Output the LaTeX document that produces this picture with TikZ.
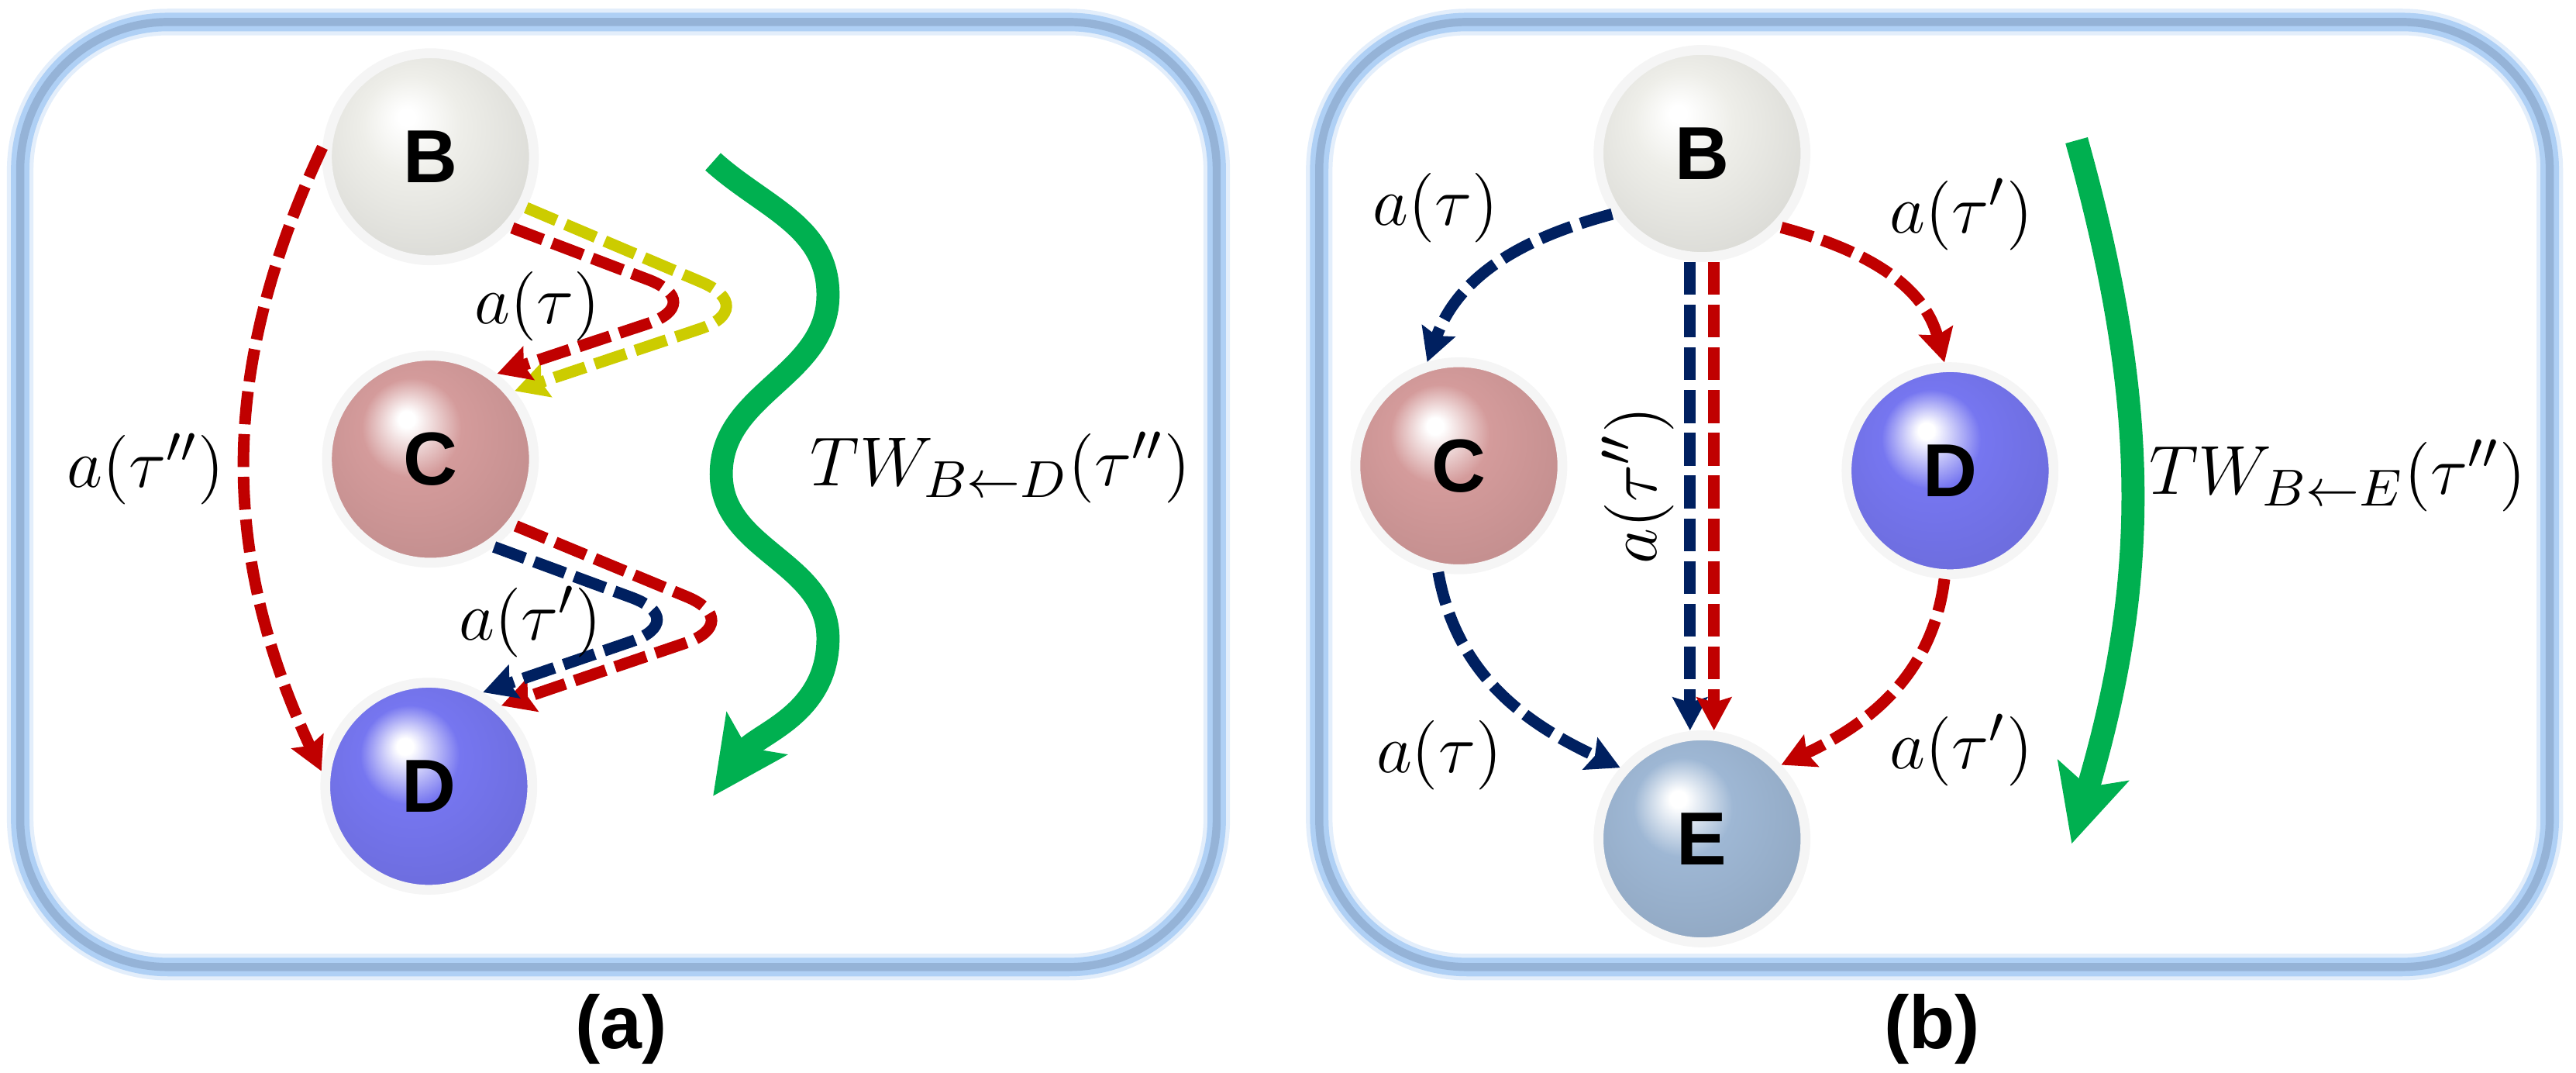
\documentclass[tikz,border=0pt]{standalone}
\usepackage{fontspec}
\setsansfont{Liberation Sans}
\usetikzlibrary{positioning,arrows.meta,calc}
\definecolor{framecore}{RGB}{149,179,215}
\definecolor{frameglow}{RGB}{175,208,245}
\definecolor{dashred}{RGB}{192,0,0}
\definecolor{dashnavy}{RGB}{0,32,96}
\definecolor{dashyellow}{RGB}{204,204,0}
\definecolor{twgreen}{RGB}{0,176,80}
\definecolor{ballBcol}{RGB}{238,238,233}
\definecolor{ballCcol}{RGB}{212,155,155}
\definecolor{ballDcol}{RGB}{118,118,240}
\definecolor{ballEcol}{RGB}{158,183,212}
% glossy sphere shadings
\newcommand{\declareball}[2]{%
  \pgfdeclareradialshading{#1}{\pgfpoint{-6bp}{10bp}}{color(0bp)=(white); color(2bp)=(white);
    color(12bp)=(#2); color(30bp)=(#2!92!black); color(37bp)=(#2!78!black); color(50bp)=(#2!78!black)}}
\declareball{ballB}{ballBcol}
\declareball{ballC}{ballCcol}
\declareball{ballD}{ballDcol}
\declareball{ballE}{ballEcol}

\begin{document}
\begin{tikzpicture}[
    ball/.style={circle, minimum size=1.26cm, inner sep=0pt, draw=black!4, line width=1.7pt,
                 font=\sffamily\bfseries\fontsize{13}{15}\selectfont},
    lbl/.style={font=\fontsize{13}{15}\selectfont, inner sep=0pt},
    caption/.style={font=\sffamily\bfseries\fontsize{13}{15}\selectfont},
    arr/.style={line width=2pt, dash pattern=on 0.2cm off 0.06cm,
                -{Stealth[length=0.2cm, width=0.21cm, inset=0.03cm]}},
    hairpin/.style={arr, rounded corners=0.4cm},
    tw/.style={line width=4pt, color=twgreen, -{Stealth[length=0.46cm, width=0.44cm, inset=0.1cm]}}
]
\useasboundingbox (0,0) rectangle (15.68,6.524);
% Panel frames
\foreach \xa/\xb in {0.123/7.406, 8.03/15.52} {
  \draw[frameglow!35!white, line width=4.6pt, rounded corners=0.9cm] (\xa,0.64) rectangle (\xb,6.39);
  \draw[frameglow, line width=3.2pt, rounded corners=0.9cm] (\xa,0.64) rectangle (\xb,6.39);
  \draw[framecore, line width=1.4pt, rounded corners=0.9cm] (\xa,0.64) rectangle (\xb,6.39);
}

% (a) chain B -> C -> D
\node[ball, shading=ballB] at (2.62,5.57) (ba) {B};
\node[ball, shading=ballC] at (2.62,3.73) (ca) {C};
\node[ball, shading=ballD] at (2.61,1.74) (da) {D};

\coordinate (pyb) at (4.64,4.65);
\coordinate (prb) at (4.32,4.68);
\coordinate (prc) at (4.55,2.74);
\coordinate (pnc) at (4.22,2.75);

\draw[arr, dashred] (ba.175) to[bend right=25] (da.172);
\draw[hairpin, dashyellow] (ba.-28) -- (pyb) -- (ca.39);
\draw[hairpin, dashred]    (ba.-41) -- (prb) -- (ca.52);
\draw[hairpin, dashred]    (ca.-38) -- (prc) -- (da.48);
\draw[hairpin, dashnavy]   (ca.-54) -- (pnc) -- (da.60);

\node[lbl] at (0.887,3.67) (lta) {$a(\tau'')$};
\node[lbl] at (3.27,4.66)  (lab) {$a(\tau)$};
\node[lbl] at (3.23,2.74)  (lac) {$a(\tau')$};

\coordinate (gsa) at (4.34,5.54);
\coordinate (gea) at (4.34,1.68);
\draw[tw] (gsa) to[out=-42,in=90] (5.04,4.73) to[out=-90,in=90] (4.39,3.64)
          to[out=-90,in=90] (5.04,2.64) to[out=-90,in=55] (gea);
\node[lbl] at (6.09,3.68) (twa) {$TW_{B\leftarrow D}(\tau'')$};
\node[caption] at (3.78,0.264) (capa) {(a)};

% (b) two branches B -> C/D -> E
\node[ball, shading=ballB] at (10.36,5.59) (bb) {B};
\node[ball, shading=ballC] at (8.88,3.69)  (cb) {C};
\node[ball, shading=ballD] at (11.87,3.66) (db) {D};
\node[ball, shading=ballE] at (10.36,1.42) (eb) {E};

\draw[arr, dashnavy] (bb.214) to[out=195,in=70] (cb.107);
\draw[arr, dashred]  (bb.-43) to[out=-15,in=105] (db.93);
\draw[arr, dashnavy] ([xshift=-0.073cm]bb.south) -- ([xshift=-0.073cm]eb.north);
\draw[arr, dashred]  ([xshift=0.073cm]bb.south) -- ([xshift=0.073cm]eb.north);
\draw[arr, dashnavy] (cb.-101) to[out=-80,in=155] (eb.139);
\draw[arr, dashred]  (db.-93) to[out=-97,in=25] (eb.43);

\node[lbl] at (8.74,5.26)  (lbc) {$a(\tau)$};
\node[lbl] at (11.94,5.22) (lbd) {$a(\tau')$};
\node[lbl, rotate=90] at (9.97,3.57) (lbe) {$a(\tau'')$};
\node[lbl] at (8.76,1.93)  (lce) {$a(\tau)$};
\node[lbl] at (11.94,1.96) (lde) {$a(\tau')$};

\coordinate (gsb) at (12.64,5.67);
\coordinate (geb) at (12.61,1.39);
\draw[tw] (gsb) to[bend left=16] (geb);
\node[lbl] at (14.23,3.63) (twb) {$TW_{B\leftarrow E}(\tau'')$};
\node[caption] at (11.76,0.264) (capb) {(b)};
\end{tikzpicture}
\end{document}
